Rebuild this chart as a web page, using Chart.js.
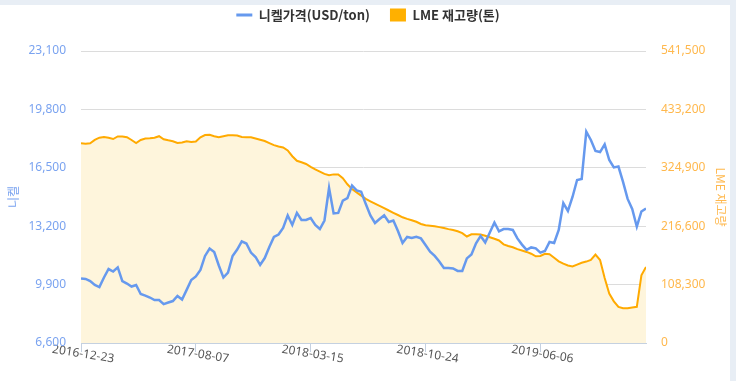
<!DOCTYPE html>
<html><head><meta charset="utf-8">
<script src="https://cdn.jsdelivr.net/npm/chart.js@4.4.0/dist/chart.umd.min.js"></script>
<style>
html,body{margin:0;padding:0;background:#fff;overflow:hidden;}
#wrap{position:relative;width:736px;height:381px;overflow:hidden;}
#c{position:absolute;left:0;top:0;}
#band{position:absolute;left:0;top:0;width:736px;height:5px;background:#e8eef5;}
#stripe{position:absolute;right:0;top:0;width:6px;height:381px;background:#e8eef5;}
</style></head><body>
<div id="wrap"><canvas id="c" width="736" height="381"></canvas><div id="band"></div><div id="stripe"></div></div>
<script>
// x-axis tick labels (shown every tickEvery samples)
const tickLabels = ['2016-12-23', '2017-08-07', '2018-03-15', '2018-10-24', '2019-06-06'];
const tickEvery = 25;

// 니켈가격 (USD/ton), sampled along the period
const nickelPrice = [
  10250,10220,10100,9880,9760,10300,10780,10640,10870,10100,
  9960,9790,9880,9370,9280,9170,9030,9030,8800,8890,
  8970,9260,9060,9600,10160,10360,10730,11520,11940,11740,
  10980,10300,10580,11520,11880,12340,12220,11710,11460,11010,
  11400,12030,12590,12730,13100,13810,13270,13950,13550,13550,
  13660,13270,13040,13520,15360,13920,13950,14650,14790,15500,
  15220,15150,14450,13810,13380,13610,13810,13440,13520,12930,
  12250,12590,12530,12600,12510,12140,11760,11520,11210,10840,
  10840,10810,10670,10670,11380,11600,12230,12650,12280,12840,
  13410,12910,13040,13040,12990,12510,12160,11860,12000,11950,
  11710,11800,12310,12250,12990,14510,14060,14850,15810,15870,
  18540,18070,17450,17390,17820,16940,16520,16570,15700,14740,
  14170,13170,14030,14200
];

// LME 재고량 (톤)
const lmeStock = [
  370300,369600,370300,376500,380700,382000,380500,378300,383000,383100,
  381700,376500,370900,376500,379200,379600,380700,383500,377900,375900,
  374200,370900,371800,374100,372800,373500,381500,385700,386100,383500,
  381800,383500,385200,385200,384600,382000,381500,381500,379100,376800,
  374600,370700,367000,364400,362700,357000,346400,337900,335100,332000,
  326800,321900,317900,313600,311000,312700,312500,305600,294300,285400,
  279300,273200,267200,262800,258500,254400,250200,245700,241500,237400,
  233100,230100,227700,224800,220700,218300,217500,216400,214900,213300,
  211200,209400,207100,203800,197500,201600,201600,201000,198800,196000,
  193200,190100,183000,179900,177500,174000,171400,168900,165600,160800,
  161300,165400,164700,158000,151500,147100,143700,141900,145400,148700,
  151000,153900,164100,153900,120500,91800,77300,66800,64400,64400,
  66000,67100,125600,140900
];

const leftTicks = { min: 6600, max: 23100, step: 3300 };
const rightTicks = { min: 0, max: 541500, step: 108300 };

const BLUE = '#6699ee';
const BLUE_TXT = '#7aa3f0';
const ORANGE = '#ffaa00';
const ORANGE_TXT = '#ffb84d';
const FILL = '#fef5dc';
const fmt = v => Number(v).toLocaleString('en-US');
const baseFont = "'Noto Sans', 'Noto Sans CJK KR', sans-serif";
const krFont = "'Noto Sans CJK KR', 'Noto Sans', sans-serif";

new Chart(document.getElementById('c'), {
  type: 'line',
  data: {
    datasets: [
      {
        label: '니켈가격(USD/ton)',
        data: nickelPrice.map((v, i) => ({ x: i, y: v })),
        xAxisID: 'x',
        yAxisID: 'y',
        borderColor: BLUE,
        backgroundColor: BLUE,
        borderWidth: 2.5,
        pointRadius: 0,
        tension: 0,
        fill: false
      },
      {
        label: 'LME 재고량(톤)',
        data: lmeStock.map((v, i) => ({ x: i, y: v })),
        xAxisID: 'x',
        yAxisID: 'y2',
        borderColor: ORANGE,
        backgroundColor: FILL,
        borderWidth: 2,
        pointRadius: 0,
        tension: 0,
        fill: 'origin'
      }
    ]
  },
  options: {
    responsive: false,
    animation: false,
    devicePixelRatio: 1,
    layout: { padding: { top: -11.5, left: 0, right: 0, bottom: 0 } },
    plugins: {
      tooltip: { enabled: false },
      title: {
        display: true,
        text: '',
        font: { size: 10, lineHeight: 1 },
        padding: { top: 0, bottom: 9.5 }
      },
      legend: {
        position: 'top',
        weight: 3000,
        labels: {
          usePointStyle: true,
          pointStyleWidth: 16,
          padding: 20,
          color: '#333',
          font: { family: krFont, size: 13, weight: 'bold' },
          generateLabels(chart) {
            const items = Chart.defaults.plugins.legend.labels.generateLabels(chart);
            items[0].pointStyle = 'line';
            items[0].lineWidth = 3;
            items[0].strokeStyle = BLUE;
            items[1].pointStyle = 'rect';
            items[1].fillStyle = '#ffb000';
            items[1].strokeStyle = '#ffb000';
            items[1].lineWidth = 0;
            return items;
          }
        }
      }
    },
    scales: {
      x: {
        type: 'linear',
        min: 0,
        max: nickelPrice.length - 1,
        afterBuildTicks(s) {
          s.ticks = tickLabels.map((_, k) => ({ value: k * tickEvery }));
        },
        afterFit(s) { s.height = 38; },
        ticks: {
          autoSkip: false,
          minRotation: -9,
          maxRotation: -9,
          labelOffset: 33,
          padding: 0,
          color: '#555',
          font: { family: baseFont, size: 12 },
          callback: v => tickLabels[Math.round(v / tickEvery)] ?? ''
        },
        grid: { display: true, drawOnChartArea: false, drawTicks: true, tickLength: 9, color: '#c5d1e0' },
        border: { display: true, color: '#c5d1e0' }
      },
      y: {
        position: 'left',
        min: leftTicks.min,
        max: leftTicks.max,
        afterFit(s) { s.width = 81; },
        ticks: {
          stepSize: leftTicks.step,
          padding: 15,
          color: BLUE_TXT,
          font: { family: baseFont, size: 12 },
          callback: v => fmt(v)
        },
        title: {
          display: true,
          text: '니켈',
          color: BLUE_TXT,
          font: { family: krFont, size: 12 },
          padding: { top: 6, bottom: 0 }
        },
        grid: { color: '#dcdcdc', drawTicks: false },
        border: { display: false }
      },
      y2: {
        position: 'right',
        min: rightTicks.min,
        max: rightTicks.max,
        afterFit(s) { s.width = 90; },
        ticks: {
          stepSize: rightTicks.step,
          padding: 15,
          color: ORANGE_TXT,
          font: { family: baseFont, size: 12 },
          callback: v => fmt(v)
        },
        title: {
          display: true,
          text: 'LME 재고량',
          color: ORANGE_TXT,
          font: { family: krFont, size: 12 },
          padding: { top: 8, bottom: 0 }
        },
        grid: { display: false, drawTicks: false },
        border: { display: false }
      }
    }
  }
});
</script>
</body></html>
